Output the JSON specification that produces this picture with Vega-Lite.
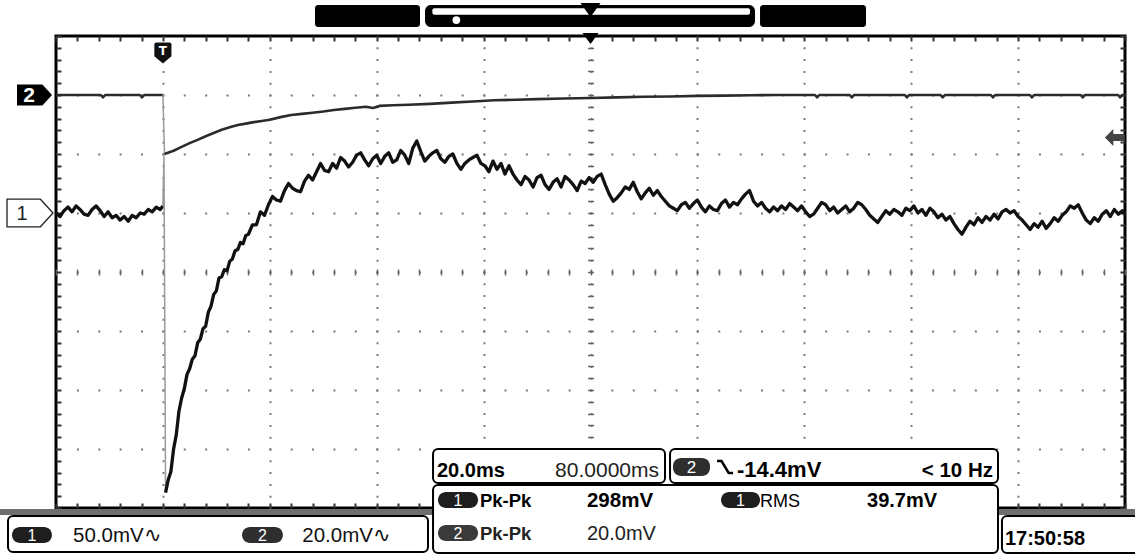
{
  "$schema": "https://vega.github.io/schema/vega-lite/v6.json",
  "width": 1069,
  "height": 472,
  "autosize": {"type": "none"},
  "padding": {"left": 56, "top": 36, "right": 10, "bottom": 48},
  "background": "white",
  "config": {
    "view": {"stroke": "#000", "strokeWidth": 3},
    "axis": {"labels": false, "domain": false, "ticks": false, "grid": false},
    "text": {"font": "Liberation Sans, Arial, sans-serif"}
  },
  "data": {"values": [{}]},
  "datasets": {
    "ch1": [
      {"t":-20,"mv":0},{"t":-19.25,"mv":-3},{"t":-18.5,"mv":2},{"t":-17.75,"mv":5},{"t":-17,"mv":1},{"t":-16.25,"mv":6},{"t":-15.5,"mv":3},{"t":-14.75,"mv":-1},{"t":-14,"mv":-2},{"t":-13.25,"mv":3},{"t":-12.5,"mv":6},{"t":-11.75,"mv":2},{"t":-11,"mv":-3},{"t":-10.25,"mv":1},{"t":-9.5,"mv":-4},{"t":-8.75,"mv":-2},{"t":-8,"mv":-6},{"t":-7.25,"mv":-3},{"t":-6.5,"mv":-7},{"t":-5.75,"mv":-2},{"t":-5,"mv":-4},{"t":-4.25,"mv":0},{"t":-3.5,"mv":-1},{"t":-2.75,"mv":3},{"t":-2,"mv":1},{"t":-1.25,"mv":5},{"t":-0.5,"mv":3},{"t":0,"mv":6},
      {"t":0.2,"mv":48},
      {"t":0.5,"mv":-237},{"t":1,"mv":-226},{"t":1.5,"mv":-219},{"t":2,"mv":-200},{"t":2.5,"mv":-188},{"t":3,"mv":-168},{"t":3.5,"mv":-157},{"t":4,"mv":-149},{"t":4.5,"mv":-137},{"t":5,"mv":-132},{"t":5.5,"mv":-124},{"t":6,"mv":-121},{"t":6.5,"mv":-110},{"t":7,"mv":-107},{"t":7.5,"mv":-98},{"t":8,"mv":-96},{"t":8.5,"mv":-84},{"t":9,"mv":-79},{"t":9.5,"mv":-69},{"t":10,"mv":-66},{"t":10.5,"mv":-55},{"t":11,"mv":-54},{"t":11.5,"mv":-48},{"t":12,"mv":-49},{"t":12.5,"mv":-41},{"t":13,"mv":-39},{"t":13.5,"mv":-32},{"t":14,"mv":-31},{"t":14.5,"mv":-25},{"t":15,"mv":-26},{"t":15.5,"mv":-19},{"t":16,"mv":-18},
      {"t":16.75,"mv":-10},{"t":17.5,"mv":-10},{"t":18.25,"mv":1},{"t":19,"mv":-2},{"t":19.75,"mv":7},{"t":20.5,"mv":14},{"t":21.25,"mv":11},{"t":22,"mv":10},{"t":22.75,"mv":19},{"t":23.5,"mv":25},{"t":24.25,"mv":21},{"t":25,"mv":19},{"t":25.75,"mv":18},{"t":26.5,"mv":27},{"t":27.25,"mv":32},{"t":28,"mv":28},{"t":28.75,"mv":35},{"t":29.5,"mv":42},{"t":30.25,"mv":36},{"t":31,"mv":35},{"t":31.75,"mv":42},{"t":32.5,"mv":38},{"t":33.25,"mv":47},{"t":34,"mv":44},{"t":34.75,"mv":39},{"t":35.5,"mv":43},{"t":36.25,"mv":49},{"t":37,"mv":51},{"t":37.75,"mv":45},{"t":38.5,"mv":40},{"t":39.25,"mv":46},{"t":40,"mv":49},{"t":40.75,"mv":42},{"t":41.5,"mv":48},{"t":42.25,"mv":51},{"t":43,"mv":43},{"t":43.75,"mv":45},{"t":44.5,"mv":53},{"t":45.25,"mv":49},{"t":46,"mv":42},{"t":46.75,"mv":55},{"t":47.5,"mv":61},{"t":48.25,"mv":52},{"t":49,"mv":44},{"t":49.75,"mv":48},{"t":50.5,"mv":51},{"t":51.25,"mv":53},{"t":52,"mv":46},{"t":52.75,"mv":43},{"t":53.5,"mv":48},{"t":54.25,"mv":50},{"t":55,"mv":42},{"t":55.75,"mv":37},{"t":56.5,"mv":42},{"t":57.25,"mv":45},{"t":58,"mv":47},{"t":58.75,"mv":49},{"t":59.5,"mv":42},{"t":60.25,"mv":40},{"t":61,"mv":35},{"t":61.75,"mv":44},{"t":62.5,"mv":37},{"t":63.25,"mv":42},{"t":64,"mv":33},{"t":64.75,"mv":40},{"t":65.5,"mv":33},{"t":66.25,"mv":28},{"t":67,"mv":24},{"t":67.75,"mv":31},{"t":68.5,"mv":28},{"t":69.25,"mv":22},{"t":70,"mv":30},{"t":70.75,"mv":32},{"t":71.5,"mv":24},{"t":72.25,"mv":20},{"t":73,"mv":26},{"t":73.75,"mv":29},{"t":74.5,"mv":22},{"t":75.25,"mv":31},{"t":76,"mv":28},{"t":76.75,"mv":24},{"t":77.5,"mv":19},{"t":78.25,"mv":27},{"t":79,"mv":25},{"t":79.75,"mv":30},{"t":80.5,"mv":26},{"t":81.25,"mv":31},{"t":82,"mv":33},{"t":82.75,"mv":24},{"t":83.5,"mv":16},{"t":84.25,"mv":10},{"t":85,"mv":13},{"t":85.75,"mv":17},{"t":86.5,"mv":22},{"t":87.25,"mv":20},{"t":88,"mv":26},{"t":88.75,"mv":18},{"t":89.5,"mv":12},{"t":90.25,"mv":17},{"t":91,"mv":21},{"t":91.75,"mv":15},{"t":92.5,"mv":19},{"t":93.25,"mv":14},{"t":94,"mv":10},{"t":94.75,"mv":6},{"t":95.5,"mv":4},{"t":96.25,"mv":2},{"t":97,"mv":7},{"t":97.75,"mv":9},{"t":98.5,"mv":4},{"t":99.25,"mv":8},{"t":100,"mv":11},{"t":100.75,"mv":5},{"t":101.5,"mv":1},{"t":102.25,"mv":6},{"t":103,"mv":3},{"t":103.75,"mv":2},{"t":104.5,"mv":8},{"t":105.25,"mv":11},{"t":106,"mv":5},{"t":106.75,"mv":9},{"t":107.5,"mv":7},{"t":108.25,"mv":12},{"t":109,"mv":16},{"t":109.75,"mv":19},{"t":110.5,"mv":10},{"t":111.25,"mv":6},{"t":112,"mv":9},{"t":112.75,"mv":4},{"t":113.5,"mv":1},{"t":114.25,"mv":5},{"t":115,"mv":2},{"t":115.75,"mv":6},{"t":116.5,"mv":3},{"t":117.25,"mv":8},{"t":118,"mv":5},{"t":118.75,"mv":2},{"t":119.5,"mv":6},{"t":120.25,"mv":1},{"t":121,"mv":-3},{"t":121.75,"mv":-1},{"t":122.5,"mv":4},{"t":123.25,"mv":9},{"t":124,"mv":7},{"t":124.75,"mv":2},{"t":125.5,"mv":5},{"t":126.25,"mv":0},{"t":127,"mv":3},{"t":127.75,"mv":6},{"t":128.5,"mv":1},{"t":129.25,"mv":4},{"t":130,"mv":9},{"t":130.75,"mv":7},{"t":131.5,"mv":3},{"t":132.25,"mv":-2},{"t":133,"mv":-5},{"t":133.75,"mv":-8},{"t":134.5,"mv":-3},{"t":135.25,"mv":2},{"t":136,"mv":-1},{"t":136.75,"mv":3},{"t":137.5,"mv":1},{"t":138.25,"mv":-2},{"t":139,"mv":4},{"t":139.75,"mv":2},{"t":140.5,"mv":6},{"t":141.25,"mv":0},{"t":142,"mv":3},{"t":142.75,"mv":-2},{"t":143.5,"mv":4},{"t":144.25,"mv":1},{"t":145,"mv":-4},{"t":145.75,"mv":-1},{"t":146.5,"mv":-6},{"t":147.25,"mv":-3},{"t":148,"mv":-9},{"t":148.75,"mv":-14},{"t":149.5,"mv":-18},{"t":150.25,"mv":-12},{"t":151,"mv":-7},{"t":151.75,"mv":-10},{"t":152.5,"mv":-4},{"t":153.25,"mv":-8},{"t":154,"mv":-3},{"t":154.75,"mv":-6},{"t":155.5,"mv":-1},{"t":156.25,"mv":-5},{"t":157,"mv":1},{"t":157.75,"mv":3},{"t":158.5,"mv":0},{"t":159.25,"mv":2},{"t":160,"mv":-3},{"t":160.75,"mv":-6},{"t":161.5,"mv":-10},{"t":162.25,"mv":-14},{"t":163,"mv":-9},{"t":163.75,"mv":-12},{"t":164.5,"mv":-7},{"t":165.25,"mv":-13},{"t":166,"mv":-9},{"t":166.75,"mv":-4},{"t":167.5,"mv":-7},{"t":168.25,"mv":-2},{"t":169,"mv":1},{"t":169.75,"mv":6},{"t":170.5,"mv":4},{"t":171.25,"mv":7},{"t":172,"mv":0},{"t":172.75,"mv":-6},{"t":173.5,"mv":-9},{"t":174.25,"mv":-4},{"t":175,"mv":-7},{"t":175.75,"mv":-1},{"t":176.5,"mv":2},{"t":177.25,"mv":-3},{"t":178,"mv":3},{"t":178.75,"mv":-1},{"t":179.5,"mv":2},{"t":180,"mv":-1}
    ],
    "ch2": [
      {"t":-20,"mv":0},{"t":-15,"mv":0},{"t":-11.6,"mv":0},{"t":-11.2,"mv":-0.8},{"t":-10.8,"mv":0},{"t":-4.3,"mv":0},{"t":-3.9,"mv":-0.8},{"t":-3.5,"mv":0},{"t":0,"mv":0},
      {"t":0.3,"mv":-20},{"t":2,"mv":-18.9},{"t":3.5,"mv":-17.6},{"t":5,"mv":-16.3},{"t":6.5,"mv":-15.2},{"t":8,"mv":-14},{"t":9.5,"mv":-12.9},{"t":11,"mv":-11.8},{"t":12.5,"mv":-10.9},{"t":14,"mv":-10.2},{"t":15.5,"mv":-9.7},{"t":17,"mv":-9.2},{"t":18.5,"mv":-8.8},{"t":20,"mv":-8.4},{"t":22,"mv":-7.5},{"t":24,"mv":-6.8},{"t":26,"mv":-6.4},{"t":28,"mv":-6},{"t":30,"mv":-5.6},{"t":32,"mv":-5.1},{"t":34,"mv":-4.7},{"t":36,"mv":-4.3},{"t":38,"mv":-4},{"t":39.3,"mv":-4.4},{"t":40.5,"mv":-3.7},{"t":43,"mv":-3.5},{"t":46,"mv":-3.3},{"t":50,"mv":-3},{"t":54,"mv":-2.6},{"t":58,"mv":-2.2},{"t":62,"mv":-1.8},{"t":66,"mv":-1.6},{"t":70,"mv":-1.4},{"t":75,"mv":-1.2},{"t":80,"mv":-1},{"t":85,"mv":-0.8},{"t":90,"mv":-0.6},{"t":95,"mv":-0.5},{"t":100,"mv":-0.3},{"t":105,"mv":-0.2},{"t":110,"mv":-0.1},{"t":115,"mv":0},
      {"t":122,"mv":0},{"t":122.4,"mv":-0.8},{"t":122.8,"mv":0},{"t":128.5,"mv":0},{"t":128.9,"mv":-0.8},{"t":129.3,"mv":0},{"t":138.8,"mv":0},{"t":139.2,"mv":-0.8},{"t":139.6,"mv":0},{"t":145.5,"mv":0},{"t":145.9,"mv":-0.8},{"t":146.3,"mv":0},{"t":154.9,"mv":0},{"t":155.3,"mv":-0.8},{"t":155.7,"mv":0},{"t":162.2,"mv":0},{"t":162.6,"mv":-0.8},{"t":163,"mv":0},{"t":171.7,"mv":0},{"t":172.1,"mv":-0.8},{"t":172.5,"mv":0},{"t":178.7,"mv":0},{"t":179.1,"mv":-0.8},{"t":179.5,"mv":0},{"t":180,"mv":0}
    ]
  },
  "layer": [
    {
      "layer": [
        {
          "mark": {"type": "rect", "fill": "#6e6e6e"},
          "encoding": {
            "x": {"datum": -5.6, "scale": {"domain": [-5, 5], "nice": false, "zero": false}, "axis": {"orient": "bottom", "title": null, "values": [-4, -3, -2, -1, 0, 1, 2, 3, 4], "grid": true, "gridColor": "#7a7a7a", "gridWidth": 2, "gridDash": [2, 9.8], "gridDashOffset": 1}},
            "x2": {"datum": 5.2},
            "y": {"datum": -4.017, "scale": {"domain": [-4, 4], "nice": false, "zero": false}, "axis": {"orient": "left", "title": null, "values": [-3, -2, -1, 0, 1, 2, 3], "grid": true, "gridColor": "#7a7a7a", "gridWidth": 2, "gridDash": [2, 19.38], "gridDashOffset": 1}},
            "y2": {"datum": -4.119}
          }
        },
        {
          "mark": {"type": "rect", "fill": "#000", "cornerRadius": 3},
          "encoding": {
            "x": {"datum": -2.577, "scale": {"domain": [-5, 5], "nice": false, "zero": false}, "axis": {"orient": "bottom", "title": null, "ticks": true, "tickSize": -5, "tickWidth": 2, "tickColor": "#333", "values": [-5,-4.8,-4.6,-4.4,-4.2,-4,-3.8,-3.6,-3.4,-3.2,-3,-2.8,-2.6,-2.4,-2.2,-2,-1.8,-1.6,-1.4,-1.2,-1,-0.8,-0.6,-0.4,-0.2,0,0.2,0.4,0.6,0.8,1,1.2,1.4,1.6,1.8,2,2.2,2.4,2.6,2.8,3,3.2,3.4,3.6,3.8,4,4.2,4.4,4.6,4.8,5]}},
            "x2": {"datum": -1.595},
            "y": {"datum": 4.525, "scale": {"domain": [-4, 4], "nice": false, "zero": false}, "axis": {"orient": "left", "title": null, "ticks": true, "tickSize": -5, "tickWidth": 2, "tickColor": "#333", "values": [-4,-3.8,-3.6,-3.4,-3.2,-3,-2.8,-2.6,-2.4,-2.2,-2,-1.8,-1.6,-1.4,-1.2,-1,-0.8,-0.6,-0.4,-0.2,0,0.2,0.4,0.6,0.8,1,1.2,1.4,1.6,1.8,2,2.2,2.4,2.6,2.8,3,3.2,3.4,3.6,3.8,4]}},
            "y2": {"datum": 4.153}
          }
        },
        {
          "mark": {"type": "rect", "fill": "#000", "cornerRadius": 3},
          "encoding": {
            "x": {"datum": 1.586, "scale": {"domain": [-5, 5], "nice": false, "zero": false}, "axis": {"orient": "top", "title": null, "ticks": true, "tickSize": -5, "tickWidth": 2, "tickColor": "#333", "values": [-5,-4.8,-4.6,-4.4,-4.2,-4,-3.8,-3.6,-3.4,-3.2,-3,-2.8,-2.6,-2.4,-2.2,-2,-1.8,-1.6,-1.4,-1.2,-1,-0.8,-0.6,-0.4,-0.2,0,0.2,0.4,0.6,0.8,1,1.2,1.4,1.6,1.8,2,2.2,2.4,2.6,2.8,3,3.2,3.4,3.6,3.8,4,4.2,4.4,4.6,4.8,5]}},
            "x2": {"datum": 2.577},
            "y": {"datum": 4.525, "scale": {"domain": [-4, 4], "nice": false, "zero": false}, "axis": {"orient": "right", "title": null, "ticks": true, "tickSize": -5, "tickWidth": 2, "tickColor": "#333", "values": [-4,-3.8,-3.6,-3.4,-3.2,-3,-2.8,-2.6,-2.4,-2.2,-2,-1.8,-1.6,-1.4,-1.2,-1,-0.8,-0.6,-0.4,-0.2,0,0.2,0.4,0.6,0.8,1,1.2,1.4,1.6,1.8,2,2.2,2.4,2.6,2.8,3,3.2,3.4,3.6,3.8,4]}},
            "y2": {"datum": 4.153}
          }
        },
        {
          "mark": {"type": "rect", "fill": "#000", "cornerRadius": 6},
          "encoding": {
            "x": {"datum": -1.548, "scale": {"domain": [-5, 5], "nice": false, "zero": false}, "axis": {"orient": "bottom", "title": null, "offset": -239, "ticks": true, "tickSize": 6, "tickWidth": 1.5, "tickColor": "#666", "values": [-5,-4.8,-4.6,-4.4,-4.2,-4,-3.8,-3.6,-3.4,-3.2,-3,-2.8,-2.6,-2.4,-2.2,-2,-1.8,-1.6,-1.4,-1.2,-1,-0.8,-0.6,-0.4,-0.2,0,0.2,0.4,0.6,0.8,1,1.2,1.4,1.6,1.8,2,2.2,2.4,2.6,2.8,3,3.2,3.4,3.6,3.8,4,4.2,4.4,4.6,4.8,5]}},
            "x2": {"datum": 1.539},
            "y": {"datum": 4.525, "scale": {"domain": [-4, 4], "nice": false, "zero": false}, "axis": {"orient": "left", "title": null, "offset": -537.5, "ticks": true, "tickSize": 6, "tickWidth": 1.5, "tickColor": "#666", "values": [-4,-3.8,-3.6,-3.4,-3.2,-3,-2.8,-2.6,-2.4,-2.2,-2,-1.8,-1.6,-1.4,-1.2,-1,-0.8,-0.6,-0.4,-0.2,0,0.2,0.4,0.6,0.8,1,1.2,1.4,1.6,1.8,2,2.2,2.4,2.6,2.8,3,3.2,3.4,3.6,3.8,4]}},
            "y2": {"datum": 4.153}
          }
        },
        {
          "mark": {"type": "rect", "fill": "#fff", "cornerRadius": 2},
          "encoding": {
            "x": {"datum": -1.479, "scale": {"domain": [-5, 5], "nice": false, "zero": false}, "axis": null},
            "x2": {"datum": 1.492},
            "y": {"datum": 4.47, "scale": {"domain": [-4, 4], "nice": false, "zero": false}, "axis": null},
            "y2": {"datum": 4.36}
          }
        },
        {
          "mark": {"type": "point", "shape": "M -1 -0.7 L 1 -0.7 L 0 0.7 Z", "filled": true, "fill": "#000", "opacity": 1, "size": 400},
          "encoding": {
            "x": {"datum": 0, "scale": {"domain": [-5, 5], "nice": false, "zero": false}, "axis": null},
            "y": {"datum": 4.44, "scale": {"domain": [-4, 4], "nice": false, "zero": false}, "axis": null}
          }
        },
        {
          "mark": {"type": "point", "shape": "circle", "filled": true, "fill": "#fff", "opacity": 1, "size": 60},
          "encoding": {
            "x": {"datum": -1.255, "scale": {"domain": [-5, 5], "nice": false, "zero": false}, "axis": null},
            "y": {"datum": 4.27, "scale": {"domain": [-4, 4], "nice": false, "zero": false}, "axis": null}
          }
        }
      ],
      "resolve": {"axis": {"x": "independent", "y": "independent"}}
    },
    {
      "data": {"name": "ch2"},
      "layer": [
        {
          "transform": [{"filter": "datum.t <= 0"}],
          "mark": {"type": "line", "color": "#2b2b2b", "strokeWidth": 2.6, "strokeJoin": "round"},
          "encoding": {
            "x": {"field": "t", "type": "quantitative", "scale": {"domain": [-20, 180], "nice": false, "zero": false}, "axis": null},
            "y": {"field": "mv", "type": "quantitative", "scale": {"domain": [-140, 20], "nice": false, "zero": false}, "axis": null}
          }
        },
        {
          "transform": [{"filter": "datum.t >= 0 && datum.t <= 0.3"}],
          "mark": {"type": "line", "color": "#9a9a9a", "strokeWidth": 1.5},
          "encoding": {
            "x": {"field": "t", "type": "quantitative", "scale": {"domain": [-20, 180], "nice": false, "zero": false}, "axis": null},
            "y": {"field": "mv", "type": "quantitative", "scale": {"domain": [-140, 20], "nice": false, "zero": false}, "axis": null}
          }
        },
        {
          "transform": [{"filter": "datum.t >= 0.3"}],
          "mark": {"type": "line", "color": "#2b2b2b", "strokeWidth": 2.6, "strokeJoin": "round"},
          "encoding": {
            "x": {"field": "t", "type": "quantitative", "scale": {"domain": [-20, 180], "nice": false, "zero": false}, "axis": null},
            "y": {"field": "mv", "type": "quantitative", "scale": {"domain": [-140, 20], "nice": false, "zero": false}, "axis": null}
          }
        },
        {
          "data": {"values": [{}]},
          "mark": {"type": "point", "shape": "M -1 -0.6 L 0.45 -0.6 L 1 0 L 0.45 0.6 L -1 0.6 Z", "filled": true, "fill": "#000", "opacity": 1, "size": 1225},
          "encoding": {
            "x": {"datum": -24.02, "scale": {"domain": [-20, 180], "nice": false, "zero": false}, "axis": null},
            "y": {"datum": 0, "scale": {"domain": [-140, 20], "nice": false, "zero": false}, "axis": null}
          }
        },
        {
          "data": {"values": [{}]},
          "mark": {"type": "text", "text": "2", "color": "#fff", "fontWeight": "bold", "fontSize": 21, "align": "center", "baseline": "middle", "dy": 1},
          "encoding": {
            "x": {"datum": -25.05, "scale": {"domain": [-20, 180], "nice": false, "zero": false}, "axis": null},
            "y": {"datum": 0, "scale": {"domain": [-140, 20], "nice": false, "zero": false}, "axis": null}
          }
        },
        {
          "data": {"values": [{}]},
          "mark": {"type": "point", "shape": "M -1 0 L -0.15 -0.85 L -0.15 -0.35 L 1 -0.35 L 1 0.35 L -0.15 0.35 L -0.15 0.85 Z", "filled": true, "fill": "#444", "opacity": 1, "size": 400},
          "encoding": {
            "x": {"datum": 178.1, "scale": {"domain": [-20, 180], "nice": false, "zero": false}, "axis": null},
            "y": {"datum": -14.4, "scale": {"domain": [-140, 20], "nice": false, "zero": false}, "axis": null}
          }
        }
      ]
    },
    {
      "data": {"name": "ch1"},
      "layer": [
        {
          "transform": [{"filter": "datum.t <= 0"}],
          "mark": {"type": "line", "color": "#111", "strokeWidth": 3.3, "strokeJoin": "round"},
          "encoding": {
            "x": {"field": "t", "type": "quantitative", "scale": {"domain": [-20, 180], "nice": false, "zero": false}, "axis": null},
            "y": {"field": "mv", "type": "quantitative", "scale": {"domain": [-250, 150], "nice": false, "zero": false}, "axis": null}
          }
        },
        {
          "transform": [{"filter": "datum.t >= 0 && datum.t <= 0.5"}],
          "mark": {"type": "line", "color": "#9a9a9a", "strokeWidth": 1.5},
          "encoding": {
            "x": {"field": "t", "type": "quantitative", "scale": {"domain": [-20, 180], "nice": false, "zero": false}, "axis": null},
            "y": {"field": "mv", "type": "quantitative", "scale": {"domain": [-250, 150], "nice": false, "zero": false}, "axis": null}
          }
        },
        {
          "transform": [{"filter": "datum.t >= 0.5"}],
          "mark": {"type": "line", "color": "#111", "strokeWidth": 3.3, "strokeJoin": "round"},
          "encoding": {
            "x": {"field": "t", "type": "quantitative", "scale": {"domain": [-20, 180], "nice": false, "zero": false}, "axis": null},
            "y": {"field": "mv", "type": "quantitative", "scale": {"domain": [-250, 150], "nice": false, "zero": false}, "axis": null}
          }
        },
        {
          "data": {"values": [{}]},
          "mark": {"type": "point", "shape": "M -1 -0.6 L 0.45 -0.6 L 1 0 L 0.45 0.6 L -1 0.6 Z", "filled": true, "fill": "#fff", "stroke": "#222", "strokeWidth": 1.3, "opacity": 1, "size": 2116},
          "encoding": {
            "x": {"datum": -24.86, "scale": {"domain": [-20, 180], "nice": false, "zero": false}, "axis": null},
            "y": {"datum": 0, "scale": {"domain": [-250, 150], "nice": false, "zero": false}, "axis": null}
          }
        },
        {
          "data": {"values": [{}]},
          "mark": {"type": "text", "text": "1", "color": "#222", "fontSize": 20, "align": "center", "baseline": "middle", "dy": 1},
          "encoding": {
            "x": {"datum": -26.36, "scale": {"domain": [-20, 180], "nice": false, "zero": false}, "axis": null},
            "y": {"datum": 0, "scale": {"domain": [-250, 150], "nice": false, "zero": false}, "axis": null}
          }
        }
      ]
    },
    {
      "layer": [
        {"mark": {"type": "rect", "fill": "#fff", "stroke": "#000", "strokeWidth": 2, "cornerRadius": 5},
         "encoding": {"x": {"datum": -5.449, "scale": {"domain": [-5, 5], "nice": false, "zero": false}, "axis": null}, "x2": {"datum": -1.52}, "y": {"datum": -4.136, "scale": {"domain": [-4, 4], "nice": false, "zero": false}, "axis": null}, "y2": {"datum": -4.746}}},
        {"mark": {"type": "rect", "fill": "#1e1e1e", "cornerRadius": 8},
         "encoding": {"x": {"datum": -5.412, "scale": {"domain": [-5, 5], "nice": false, "zero": false}, "axis": null}, "x2": {"datum": -5.038}, "y": {"datum": -4.322, "scale": {"domain": [-4, 4], "nice": false, "zero": false}, "axis": null}, "y2": {"datum": -4.593}}},
        {"mark": {"type": "text", "text": "1", "color": "#fff", "fontSize": 16, "align": "center", "baseline": "middle", "dy": 1},
         "encoding": {"x": {"datum": -5.225, "scale": {"domain": [-5, 5], "nice": false, "zero": false}, "axis": null}, "y": {"datum": -4.458, "scale": {"domain": [-4, 4], "nice": false, "zero": false}, "axis": null}}},
        {"mark": {"type": "text", "text": "50.0mV∿", "color": "#111", "fontSize": 20.5, "align": "left", "baseline": "alphabetic"},
         "encoding": {"x": {"datum": -4.841, "scale": {"domain": [-5, 5], "nice": false, "zero": false}, "axis": null}, "y": {"datum": -4.58, "scale": {"domain": [-4, 4], "nice": false, "zero": false}, "axis": null}}},
        {"mark": {"type": "rect", "fill": "#2e2e2e", "cornerRadius": 8},
         "encoding": {"x": {"datum": -3.26, "scale": {"domain": [-5, 5], "nice": false, "zero": false}, "axis": null}, "x2": {"datum": -2.877}, "y": {"datum": -4.322, "scale": {"domain": [-4, 4], "nice": false, "zero": false}, "axis": null}, "y2": {"datum": -4.593}}},
        {"mark": {"type": "text", "text": "2", "color": "#fff", "fontSize": 16, "align": "center", "baseline": "middle", "dy": 1},
         "encoding": {"x": {"datum": -3.069, "scale": {"domain": [-5, 5], "nice": false, "zero": false}, "axis": null}, "y": {"datum": -4.458, "scale": {"domain": [-4, 4], "nice": false, "zero": false}, "axis": null}}},
        {"mark": {"type": "text", "text": "20.0mV∿", "color": "#111", "fontSize": 20.5, "align": "left", "baseline": "alphabetic"},
         "encoding": {"x": {"datum": -2.696, "scale": {"domain": [-5, 5], "nice": false, "zero": false}, "axis": null}, "y": {"datum": -4.58, "scale": {"domain": [-4, 4], "nice": false, "zero": false}, "axis": null}}},

        {"mark": {"type": "rect", "fill": "#fff", "stroke": "#000", "strokeWidth": 2, "cornerRadius": 5},
         "encoding": {"x": {"datum": -1.473, "scale": {"domain": [-5, 5], "nice": false, "zero": false}, "axis": null}, "x2": {"datum": 0.697}, "y": {"datum": -3.0, "scale": {"domain": [-4, 4], "nice": false, "zero": false}, "axis": null}, "y2": {"datum": -3.576}}},
        {"mark": {"type": "text", "text": "20.0ms", "color": "#000", "fontWeight": "bold", "fontSize": 20, "align": "left", "baseline": "alphabetic"},
         "encoding": {"x": {"datum": -1.436, "scale": {"domain": [-5, 5], "nice": false, "zero": false}, "axis": null}, "y": {"datum": -3.48, "scale": {"domain": [-4, 4], "nice": false, "zero": false}, "axis": null}}},
        {"mark": {"type": "text", "text": "80.0000ms", "color": "#222", "fontSize": 21, "align": "right", "baseline": "alphabetic"},
         "encoding": {"x": {"datum": 0.641, "scale": {"domain": [-5, 5], "nice": false, "zero": false}, "axis": null}, "y": {"datum": -3.48, "scale": {"domain": [-4, 4], "nice": false, "zero": false}, "axis": null}}},

        {"mark": {"type": "rect", "fill": "#fff", "stroke": "#000", "strokeWidth": 2, "cornerRadius": 5},
         "encoding": {"x": {"datum": 0.744, "scale": {"domain": [-5, 5], "nice": false, "zero": false}, "axis": null}, "x2": {"datum": 3.812}, "y": {"datum": -3.0, "scale": {"domain": [-4, 4], "nice": false, "zero": false}, "axis": null}, "y2": {"datum": -3.576}}},
        {"mark": {"type": "rect", "fill": "#2e2e2e", "cornerRadius": 8},
         "encoding": {"x": {"datum": 0.772, "scale": {"domain": [-5, 5], "nice": false, "zero": false}, "axis": null}, "x2": {"datum": 1.118}, "y": {"datum": -3.153, "scale": {"domain": [-4, 4], "nice": false, "zero": false}, "axis": null}, "y2": {"datum": -3.458}}},
        {"mark": {"type": "text", "text": "2", "color": "#fff", "fontSize": 17, "align": "center", "baseline": "middle", "dy": 1},
         "encoding": {"x": {"datum": 0.945, "scale": {"domain": [-5, 5], "nice": false, "zero": false}, "axis": null}, "y": {"datum": -3.305, "scale": {"domain": [-4, 4], "nice": false, "zero": false}, "axis": null}}},
        {"mark": {"type": "point", "shape": "M -1 -0.75 L -0.45 -0.75 L 0.45 0.75 L 1 0.75", "filled": false, "stroke": "#000", "strokeWidth": 2.5, "opacity": 1, "size": 256},
         "encoding": {"x": {"datum": 1.259, "scale": {"domain": [-5, 5], "nice": false, "zero": false}, "axis": null}, "y": {"datum": -3.305, "scale": {"domain": [-4, 4], "nice": false, "zero": false}, "axis": null}}},
        {"mark": {"type": "text", "text": "-14.4mV", "color": "#000", "fontWeight": "bold", "fontSize": 22, "align": "left", "baseline": "alphabetic"},
         "encoding": {"x": {"datum": 1.37, "scale": {"domain": [-5, 5], "nice": false, "zero": false}, "axis": null}, "y": {"datum": -3.48, "scale": {"domain": [-4, 4], "nice": false, "zero": false}, "axis": null}}},
        {"mark": {"type": "text", "text": "< 10 Hz", "color": "#000", "fontWeight": "bold", "fontSize": 20.5, "align": "right", "baseline": "alphabetic"},
         "encoding": {"x": {"datum": 3.765, "scale": {"domain": [-5, 5], "nice": false, "zero": false}, "axis": null}, "y": {"datum": -3.48, "scale": {"domain": [-4, 4], "nice": false, "zero": false}, "axis": null}}},

        {"mark": {"type": "rect", "fill": "#fff", "stroke": "#000", "strokeWidth": 2, "cornerRadius": 5},
         "encoding": {"x": {"datum": -1.473, "scale": {"domain": [-5, 5], "nice": false, "zero": false}, "axis": null}, "x2": {"datum": 3.812}, "y": {"datum": -3.61, "scale": {"domain": [-4, 4], "nice": false, "zero": false}, "axis": null}, "y2": {"datum": -4.763}}},
        {"mark": {"type": "rect", "fill": "#1e1e1e", "cornerRadius": 8},
         "encoding": {"x": {"datum": -1.427, "scale": {"domain": [-5, 5], "nice": false, "zero": false}, "axis": null}, "x2": {"datum": -1.052}, "y": {"datum": -3.729, "scale": {"domain": [-4, 4], "nice": false, "zero": false}, "axis": null}, "y2": {"datum": -4.0}}},
        {"mark": {"type": "text", "text": "1", "color": "#fff", "fontSize": 16, "align": "center", "baseline": "middle", "dy": 1},
         "encoding": {"x": {"datum": -1.24, "scale": {"domain": [-5, 5], "nice": false, "zero": false}, "axis": null}, "y": {"datum": -3.865, "scale": {"domain": [-4, 4], "nice": false, "zero": false}, "axis": null}}},
        {"mark": {"type": "text", "text": "Pk-Pk", "color": "#000", "fontWeight": "bold", "fontSize": 18.5, "align": "left", "baseline": "alphabetic"},
         "encoding": {"x": {"datum": -1.034, "scale": {"domain": [-5, 5], "nice": false, "zero": false}, "axis": null}, "y": {"datum": -3.99, "scale": {"domain": [-4, 4], "nice": false, "zero": false}, "axis": null}}},
        {"mark": {"type": "text", "text": "298mV", "color": "#000", "fontWeight": "bold", "fontSize": 20.5, "align": "left", "baseline": "alphabetic"},
         "encoding": {"x": {"datum": -0.033, "scale": {"domain": [-5, 5], "nice": false, "zero": false}, "axis": null}, "y": {"datum": -3.99, "scale": {"domain": [-4, 4], "nice": false, "zero": false}, "axis": null}}},
        {"mark": {"type": "rect", "fill": "#1e1e1e", "cornerRadius": 8},
         "encoding": {"x": {"datum": 1.221, "scale": {"domain": [-5, 5], "nice": false, "zero": false}, "axis": null}, "x2": {"datum": 1.586}, "y": {"datum": -3.729, "scale": {"domain": [-4, 4], "nice": false, "zero": false}, "axis": null}, "y2": {"datum": -4.0}}},
        {"mark": {"type": "text", "text": "1", "color": "#fff", "fontSize": 16, "align": "center", "baseline": "middle", "dy": 1},
         "encoding": {"x": {"datum": 1.403, "scale": {"domain": [-5, 5], "nice": false, "zero": false}, "axis": null}, "y": {"datum": -3.865, "scale": {"domain": [-4, 4], "nice": false, "zero": false}, "axis": null}}},
        {"mark": {"type": "text", "text": "RMS", "color": "#000", "fontSize": 18, "align": "left", "baseline": "alphabetic"},
         "encoding": {"x": {"datum": 1.586, "scale": {"domain": [-5, 5], "nice": false, "zero": false}, "axis": null}, "y": {"datum": -3.99, "scale": {"domain": [-4, 4], "nice": false, "zero": false}, "axis": null}}},
        {"mark": {"type": "text", "text": "39.7mV", "color": "#000", "fontWeight": "bold", "fontSize": 20, "align": "left", "baseline": "alphabetic"},
         "encoding": {"x": {"datum": 2.587, "scale": {"domain": [-5, 5], "nice": false, "zero": false}, "axis": null}, "y": {"datum": -3.99, "scale": {"domain": [-4, 4], "nice": false, "zero": false}, "axis": null}}},
        {"mark": {"type": "rect", "fill": "#3a3a3a", "cornerRadius": 8},
         "encoding": {"x": {"datum": -1.427, "scale": {"domain": [-5, 5], "nice": false, "zero": false}, "axis": null}, "x2": {"datum": -1.052}, "y": {"datum": -4.288, "scale": {"domain": [-4, 4], "nice": false, "zero": false}, "axis": null}, "y2": {"datum": -4.559}}},
        {"mark": {"type": "text", "text": "2", "color": "#fff", "fontSize": 16, "align": "center", "baseline": "middle", "dy": 1},
         "encoding": {"x": {"datum": -1.24, "scale": {"domain": [-5, 5], "nice": false, "zero": false}, "axis": null}, "y": {"datum": -4.424, "scale": {"domain": [-4, 4], "nice": false, "zero": false}, "axis": null}}},
        {"mark": {"type": "text", "text": "Pk-Pk", "color": "#222", "fontWeight": "bold", "fontSize": 18.5, "align": "left", "baseline": "alphabetic"},
         "encoding": {"x": {"datum": -1.034, "scale": {"domain": [-5, 5], "nice": false, "zero": false}, "axis": null}, "y": {"datum": -4.55, "scale": {"domain": [-4, 4], "nice": false, "zero": false}, "axis": null}}},
        {"mark": {"type": "text", "text": "20.0mV", "color": "#222", "fontSize": 20, "align": "left", "baseline": "alphabetic"},
         "encoding": {"x": {"datum": -0.033, "scale": {"domain": [-5, 5], "nice": false, "zero": false}, "axis": null}, "y": {"datum": -4.55, "scale": {"domain": [-4, 4], "nice": false, "zero": false}, "axis": null}}},

        {"mark": {"type": "rect", "fill": "#fff", "stroke": "#000", "strokeWidth": 2, "cornerRadius": 5},
         "encoding": {"x": {"datum": 3.849, "scale": {"domain": [-5, 5], "nice": false, "zero": false}, "axis": null}, "x2": {"datum": 5.14}, "y": {"datum": -4.136, "scale": {"domain": [-4, 4], "nice": false, "zero": false}, "axis": null}, "y2": {"datum": -4.763}}},
        {"mark": {"type": "text", "text": "17:50:58", "color": "#000", "fontWeight": "bold", "fontSize": 20, "align": "left", "baseline": "alphabetic"},
         "encoding": {"x": {"datum": 3.877, "scale": {"domain": [-5, 5], "nice": false, "zero": false}, "axis": null}, "y": {"datum": -4.63, "scale": {"domain": [-4, 4], "nice": false, "zero": false}, "axis": null}}},

        {"mark": {"type": "point", "shape": "M -0.7 -1.1 L 0.7 -1.1 Q 0.9 -1.1 0.9 -0.9 L 0.9 0.35 L 0 1.1 L -0.9 0.35 L -0.9 -0.9 Q -0.9 -1.1 -0.7 -1.1 Z", "filled": true, "fill": "#111", "opacity": 1, "size": 361},
         "encoding": {"x": {"datum": -4.0, "scale": {"domain": [-5, 5], "nice": false, "zero": false}, "axis": null}, "y": {"datum": 3.712, "scale": {"domain": [-4, 4], "nice": false, "zero": false}, "axis": null}}},
        {"mark": {"type": "text", "text": "T", "color": "#fff", "font": "DejaVu Sans, sans-serif", "fontWeight": "bold", "fontSize": 12, "align": "center", "baseline": "middle"},
         "encoding": {"x": {"datum": -4.0, "scale": {"domain": [-5, 5], "nice": false, "zero": false}, "axis": null}, "y": {"datum": 3.75, "scale": {"domain": [-4, 4], "nice": false, "zero": false}, "axis": null}}},
        {"mark": {"type": "point", "shape": "M -1 -0.7 L 1 -0.7 L 0 0.7 Z", "filled": true, "fill": "#000", "opacity": 1, "size": 256},
         "encoding": {"x": {"datum": 0, "scale": {"domain": [-5, 5], "nice": false, "zero": false}, "axis": null}, "y": {"datum": 3.958, "scale": {"domain": [-4, 4], "nice": false, "zero": false}, "axis": null}}}
      ]
    }
  ],
  "resolve": {
    "scale": {"x": "independent", "y": "independent"},
    "axis": {"x": "independent", "y": "independent"}
  }
}
